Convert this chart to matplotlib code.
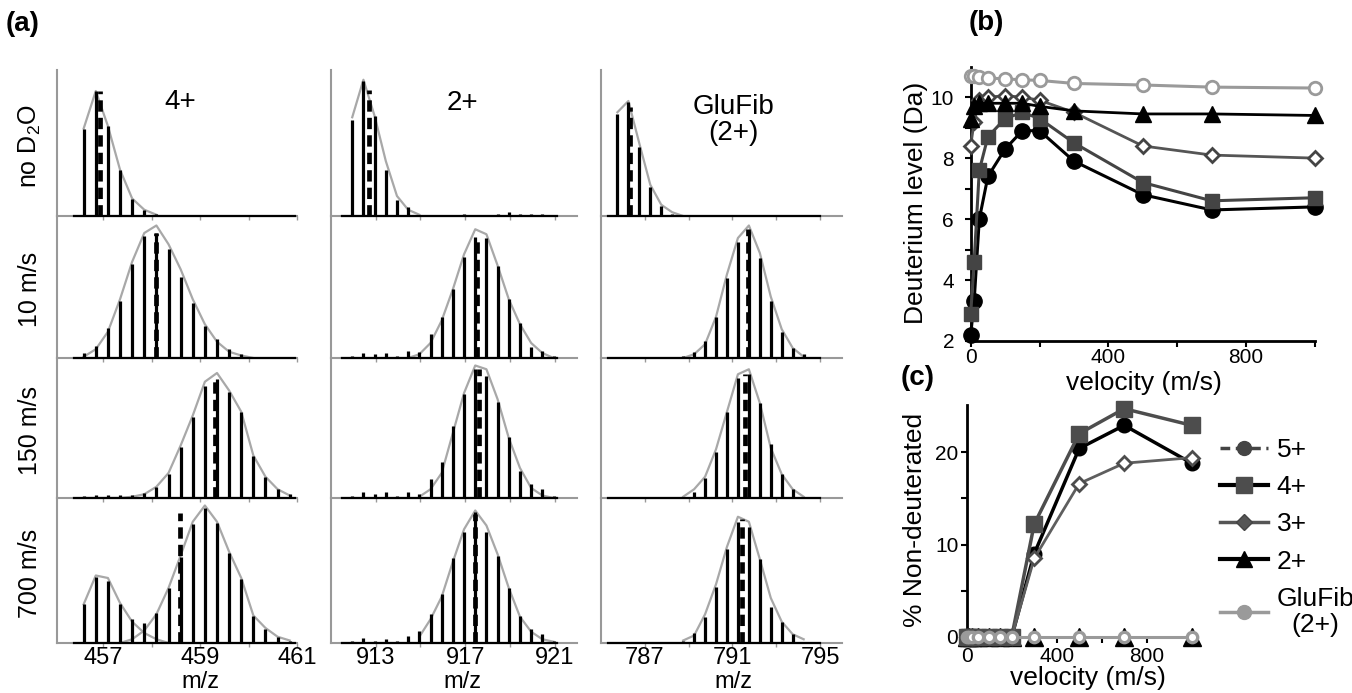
import numpy as np
import matplotlib.pyplot as plt
from matplotlib.lines import Line2D

plt.rcParams['font.family'] = ['Liberation Sans', 'DejaVu Sans']
plt.rcParams['mathtext.fontset'] = 'custom'
plt.rcParams['mathtext.rm'] = 'Liberation Sans'

nan = np.nan
W, H = 1352, 693

# ---------------- (a) isotope distributions ----------------
row_labels = ['no D$_2$O', '10 m/s', '150 m/s', '700 m/s']
col_titles = ['4+', '2+', 'GluFib\n(2+)']
mz_first = [456.6, 911.95, 785.75]
mz_step = [0.25, 0.5, 0.5]
mz_baseline = [(456.4, 460.95), (911.5, 921.1), (785.3, 795.0)]
mz_lims = [(456.05, 461.0), (911.0, 922.0), (785.0, 796.0)]
mz_ticks = [[457, 458, 459, 460, 461], [913, 915, 917, 919, 921], [787, 789, 791, 793, 795]]
mz_ticklabels = [['457', '', '459', '', '461'], ['913', '', '917', '', '921'],
                 ['787', '', '791', '', '795']]

peaks_4p = [
    [0.70, 1.00, 0.72, 0.37, 0.14, 0.05, 0.015],
    [0.04, 0.10, 0.24, 0.46, 0.75, 0.98, 1.00, 0.87, 0.65, 0.44, 0.26, 0.15, 0.07, 0.03, 0.01],
    [0.013, 0.027, 0.027, 0.024, 0.024, 0.043, 0.09, 0.19, 0.41, 0.65, 0.90, 0.95, 0.85, 0.69,
     0.34, 0.17, 0.07, 0.03],
    [0.31, 0.53, 0.50, 0.31, 0.19, 0.16, 0.24, 0.44, 0.69, 0.95, 1.08, 0.96, 0.72, 0.51, 0.22,
     0.11, 0.05, 0.02],
]
env_4p = [
    [0.70, 1.00, 0.72, 0.37, 0.14, 0.05, 0.01],
    [0.01, 0.07, 0.21, 0.47, 0.77, 1.00, 1.06, 0.91, 0.71, 0.47, 0.27, 0.13, 0.05, 0.02, 0.0],
    [0.0, 0.0, 0.0, 0.0, 0.01, 0.03, 0.09, 0.20, 0.42, 0.66, 0.93, 1.00, 0.86, 0.69, 0.34, 0.17,
     0.07, 0.02],
    [nan, nan, nan, 0.0, 0.03, 0.10, 0.23, 0.44, 0.70, 0.97, 1.10, 0.97, 0.73, 0.52, 0.22, 0.12,
     0.05, 0.02],
]
env_4p_700_low = [0.31, 0.54, 0.52, 0.32, 0.17, 0.08, 0.03, 0.0]
centroid_4p = [456.94, 458.09, 459.31, 458.59]
centroid_top_4p = [1.0, 1.0, 0.97, 1.04]

peaks_2p = [
    [0.77, 1.08, 0.80, 0.37, 0.13, 0.07, 0.01, 0.01, 0.01, 0.01, 0.02, 0.01, 0.01, 0.02, 0.03,
     0.02, 0.02, 0.02, 0.01],
    [0.02, 0.04, 0.03, 0.04, 0.02, 0.06, 0.05, 0.19, 0.33, 0.55, 0.81, 0.97, 0.96, 0.74, 0.47,
     0.28, 0.09, 0.06, 0.02],
    [0.02, 0.05, 0.03, 0.05, 0.02, 0.05, 0.03, 0.15, 0.29, 0.58, 0.83, 1.03, 0.98, 0.77, 0.49,
     0.22, 0.11, 0.07, 0.02],
    [0.02, 0.04, 0.02, 0.03, 0.02, 0.06, 0.10, 0.23, 0.39, 0.68, 0.89, 1.05, 0.89, 0.70, 0.44,
     0.22, 0.11, 0.07, 0.02],
]
env_2p = [
    [0.79, 1.09, 0.80, 0.44, 0.16, 0.05, 0.01],
    [nan, nan, nan, nan, nan, 0.0, 0.03, 0.12, 0.30, 0.55, 0.83, 1.03, 0.99, 0.74, 0.47, 0.27,
     0.12, 0.04, 0.0],
    [nan, nan, nan, nan, nan, nan, 0.01, 0.07, 0.20, 0.52, 0.84, 1.06, 1.03, 0.79, 0.48, 0.24,
     0.08, 0.02, 0.0],
    [nan, nan, nan, nan, nan, nan, 0.05, 0.19, 0.37, 0.65, 0.91, 1.06, 0.94, 0.71, 0.44, 0.21,
     0.09, 0.03, 0.01],
]
centroid_2p = [912.7, 917.54, 917.64, 917.45]
centroid_top_2p = [1.01, 0.97, 1.03, 1.03]

peaks_glufib = [
    [0.82, 0.91, 0.55, 0.23, 0.08, 0.02, 0.01],
    [0.01, 0.01, 0.01, 0.01, 0.01, 0.01, 0.02, 0.045, 0.14, 0.33, 0.64, 0.93, 1.02, 0.80, 0.46,
     0.21, 0.08, 0.03],
    [0.01, 0.01, 0.01, 0.01, 0.01, 0.01, 0.01, 0.05, 0.16, 0.37, 0.69, 0.96, 0.99, 0.76, 0.43,
     0.19, 0.07, 0.01],
    [0.01, 0.01, 0.01, 0.01, 0.01, 0.01, 0.02, 0.08, 0.21, 0.45, 0.75, 0.97, 0.93, 0.67, 0.29,
     0.17, 0.07, 0.01],
]
env_glufib = [
    [0.83, 0.92, 0.58, 0.25, 0.09, 0.03, 0.0],
    [nan, nan, nan, nan, nan, nan, 0.0, 0.03, 0.11, 0.33, 0.67, 0.96, 1.06, 0.84, 0.49, 0.23,
     0.08, 0.01],
    [nan, nan, nan, nan, nan, nan, 0.01, 0.07, 0.17, 0.39, 0.69, 0.99, 1.03, 0.76, 0.40, 0.19,
     0.07, 0.01],
    [nan, nan, nan, nan, nan, nan, 0.02, 0.06, 0.23, 0.47, 0.77, 1.01, 0.97, 0.67, 0.36, 0.17,
     0.07, 0.03],
]
centroid_glufib = [786.31, 791.69, 791.56, 791.44]
centroid_top_glufib = [0.87, 1.03, 0.99, 0.99]

# ---------------- (b) / (c) velocity series ----------------
velocity = [0, 10, 25, 50, 100, 150, 200, 300, 500, 700, 1000]
d_5p = [2.2, 3.3, 6.0, 7.4, 8.3, 8.9, 8.9, 7.9, 6.8, 6.3, 6.4]
d_4p = [2.9, 4.6, 7.6, 8.7, 9.3, 9.5, 9.3, 8.5, 7.2, 6.6, 6.7]
d_3p = [8.4, 9.2, 9.9, 10.0, 10.05, 10.0, 9.9, 9.5, 8.4, 8.1, 8.0]
d_2p = [9.3, 9.7, 9.8, 9.8, 9.8, 9.8, 9.7, 9.55, 9.45, 9.45, 9.4]
d_glufib = [10.7, 10.68, 10.66, 10.63, 10.6, 10.57, 10.55, 10.45, 10.4, 10.33, 10.3]

nd_5p = [0, 0, 0, 0, 0, 0, 0, 9.0, 20.4, 22.9, 18.8]
nd_4p = [0, 0, 0, 0, 0, 0, 0, 12.2, 22.0, 24.7, 22.9]
nd_3p = [0, 0, 0, 0, 0, 0, 0, 8.5, 16.6, 18.8, 19.4]
nd_2p = [0, 0, 0, 0, 0, 0, 0, 0, 0, 0, 0]
nd_glufib = [0, 0, 0, 0, 0, 0, 0, 0, 0, 0, 0]


def fx(px):
    return px / W


def fy(py):
    return 1 - py / H


fig = plt.figure(figsize=(13.52, 6.93), dpi=100)

col_left = [57, 331, 601]
col_width = [240, 246, 241]
row_top = [70, 216, 358, 498]
row_bot = [216, 358, 498, 643]
spine_gray = '#999999'
env_gray = '#a8a8a8'

columns = [(peaks_4p, env_4p, centroid_4p, centroid_top_4p),
           (peaks_2p, env_2p, centroid_2p, centroid_top_2p),
           (peaks_glufib, env_glufib, centroid_glufib, centroid_top_glufib)]

for c, (peaks, envs, cents, tops) in enumerate(columns):
    for r in range(4):
        h = row_bot[r] - row_top[r]
        ax = fig.add_axes([fx(col_left[c]), fy(row_bot[r]), col_width[c] / W, h / H])
        ax.patch.set_alpha(0)
        x_pk = mz_first[c] + mz_step[c] * np.arange(len(peaks[r]))
        x_env = mz_first[c] + mz_step[c] * np.arange(len(envs[r]))
        ax.plot(x_env, envs[r], color=env_gray, lw=1.6, zorder=2)
        if c == 0 and r == 3:
            x_low = mz_first[c] + mz_step[c] * np.arange(len(env_4p_700_low))
            ax.plot(x_low, env_4p_700_low, color=env_gray, lw=1.6, zorder=2)
        ax.plot(mz_baseline[c], [0, 0], color='k', lw=1.6, zorder=3, clip_on=False)
        ax.vlines(x_pk, 0, peaks[r], colors='k', lw=2.3, zorder=3)
        ax.vlines([cents[r]], 0, [tops[r]], colors='k', lw=3.4,
                  linestyles=[(0, (2.4, 1.3))], zorder=4)
        ax.set_xlim(*mz_lims[c])
        ax.set_ylim(0, h / 125)
        for s in ['top', 'right']:
            ax.spines[s].set_visible(False)
        for s in ['left', 'bottom']:
            ax.spines[s].set_color(spine_gray)
            ax.spines[s].set_linewidth(1.5)
        ax.set_yticks([])
        ax.set_xticks(mz_ticks[c])
        ax.set_xticklabels(mz_ticklabels[c])
        ax.tick_params(axis='x', length=3, width=1, color=spine_gray, direction='out',
                       labelsize=17, pad=0, labelbottom=(r == 3))
        if c == 0:
            ax.text(-0.113, 0.48, row_labels[r], rotation=90, ha='center', va='center',
                    fontsize=18, transform=ax.transAxes)

fig.text(fx(180), fy(102), col_titles[0], ha='center', va='center', fontsize=20)
fig.text(fx(462), fy(103), col_titles[1], ha='center', va='center', fontsize=20)
fig.text(fx(733), fy(120), col_titles[2], ha='center', va='center', fontsize=20,
         multialignment='center', linespacing=1.0)
for xc in [200, 462, 733]:
    fig.text(fx(xc), fy(682), 'm/z', ha='center', va='center', fontsize=17)

# ---------------- (b) deuterium level ----------------
axb = fig.add_axes([fx(970.7), fy(341), (1315 - 970.7) / W, (341 - 66.7) / H])
axb.plot(velocity, d_5p, color='k', lw=2.2, marker='o', ms=11, mfc='k', mec='k',
         clip_on=False, zorder=3)
axb.plot(velocity, d_4p, color='#444444', lw=2.2, marker='s', ms=10.5, mfc='#444444',
         mec='#444444', clip_on=False, zorder=4)
axb.plot(velocity, d_3p, color='#555555', lw=2.0, marker='D', ms=7.5, mfc='white',
         mec='#444444', mew=2, clip_on=False, zorder=5)
axb.plot(velocity, d_2p, color='k', lw=2.0, marker='^', ms=12, mfc='k', mec='k',
         clip_on=False, zorder=6)
axb.plot(velocity, d_glufib, color='#9a9a9a', lw=2.2, marker='o', ms=9, mfc='white',
         mec='#9a9a9a', mew=2, clip_on=False, zorder=7)
axb.set_xlim(0, 1000)
axb.set_ylim(2, 11)
axb.set_xticks([0, 400, 800])
axb.set_xticks([200, 600, 1000], minor=True)
axb.set_yticks([2, 4, 6, 8, 10])
axb.set_yticks([3, 5, 7, 9], minor=True)
for s in ['top', 'right']:
    axb.spines[s].set_visible(False)
for s in ['left', 'bottom']:
    axb.spines[s].set_linewidth(2)
axb.tick_params(which='both', direction='out', width=1.5, length=4, labelsize=15)
axb.tick_params(axis='y', pad=8)
axb.tick_params(axis='x', pad=1)
fig.text(fx(916), fy(203), 'Deuterium level (Da)', rotation=90, ha='center', va='center',
         fontsize=19)
fig.text(fx(1144), fy(383), 'velocity (m/s)', ha='center', va='center', fontsize=19)

# ---------------- (c) non-deuterated fraction ----------------
axc = fig.add_axes([fx(966.7), fy(642.5), 225 / W, (642.5 - 405) / H])
axc.plot(velocity, nd_2p, color='k', lw=2.0, marker='^', ms=12.5, mfc='k', mec='k',
         clip_on=False, zorder=3)
axc.plot(velocity, nd_5p, color='k', lw=2.5, marker='o', ms=10.5, mfc='k', mec='k',
         clip_on=False, zorder=4)
axc.plot(velocity, nd_4p, color='#4d4d4d', lw=2.5, marker='s', ms=11, mfc='#4d4d4d',
         mec='#4d4d4d', clip_on=False, zorder=5)
axc.plot(velocity, nd_3p, color='#5e5e5e', lw=2.0, marker='D', ms=7.5, mfc='white',
         mec='#4d4d4d', mew=2, clip_on=False, zorder=6)
axc.plot(velocity, nd_glufib, color='#9a9a9a', lw=2.2, marker='o', ms=7.5, mfc='white',
         mec='#9a9a9a', mew=2.4, clip_on=False, zorder=7)
axc.set_xlim(0, 1000)
axc.set_ylim(-0.6, 25.1)
axc.set_xticks([0, 400, 800])
axc.set_xticks([200, 600], minor=True)
axc.set_yticks([0, 10, 20])
axc.set_yticks([5, 15], minor=True)
for s in ['top', 'right', 'bottom']:
    axc.spines[s].set_visible(False)
axc.spines['left'].set_linewidth(2)
axc.tick_params(which='both', direction='out', width=1.5, length=4, labelsize=15, pad=2)
axc.tick_params(axis='x', which='both', direction='in', length=3, pad=3)
fig.text(fx(915), fy(520), '% Non-deuterated', rotation=90, ha='center', va='center',
         fontsize=19)
fig.text(fx(1088), fy(678), 'velocity (m/s)', ha='center', va='center', fontsize=19)

handles = [
    Line2D([], [], color='#444444', lw=2.5, ls=(0, (2.8, 1.6)), marker='o', ms=10,
           mfc='#444444', mec='#444444'),
    Line2D([], [], color='k', lw=3, marker='s', ms=11, mfc='#4d4d4d', mec='#4d4d4d'),
    Line2D([], [], color='#555555', lw=2.5, marker='D', ms=8, mfc='#555555', mec='#444444'),
    Line2D([], [], color='k', lw=3, marker='^', ms=12, mfc='k', mec='k'),
    Line2D([], [], color='#9a9a9a', lw=2.5, marker='o', ms=10, mfc='#9a9a9a', mec='#9a9a9a'),
]
leg = fig.legend(handles, ['5+', '4+', '3+', '2+', 'GluFib\n(2+)'], loc='upper left',
                 bbox_to_anchor=(fx(1220), fy(438)), frameon=False, fontsize=19,
                 handlelength=1.8, handletextpad=0.35, labelspacing=0.5, borderpad=0,
                 borderaxespad=0)
for t in leg.get_texts():
    t.set_multialignment('center')
    t.set_linespacing(1.1)

# panel letters
fig.text(fx(23), fy(24), '(a)', ha='center', va='center', fontsize=20, fontweight='bold')
fig.text(fx(986), fy(23), '(b)', ha='center', va='center', fontsize=20, fontweight='bold')
fig.text(fx(918), fy(378), '(c)', ha='center', va='center', fontsize=20, fontweight='bold')

fig.savefig('out.png', dpi=100)
